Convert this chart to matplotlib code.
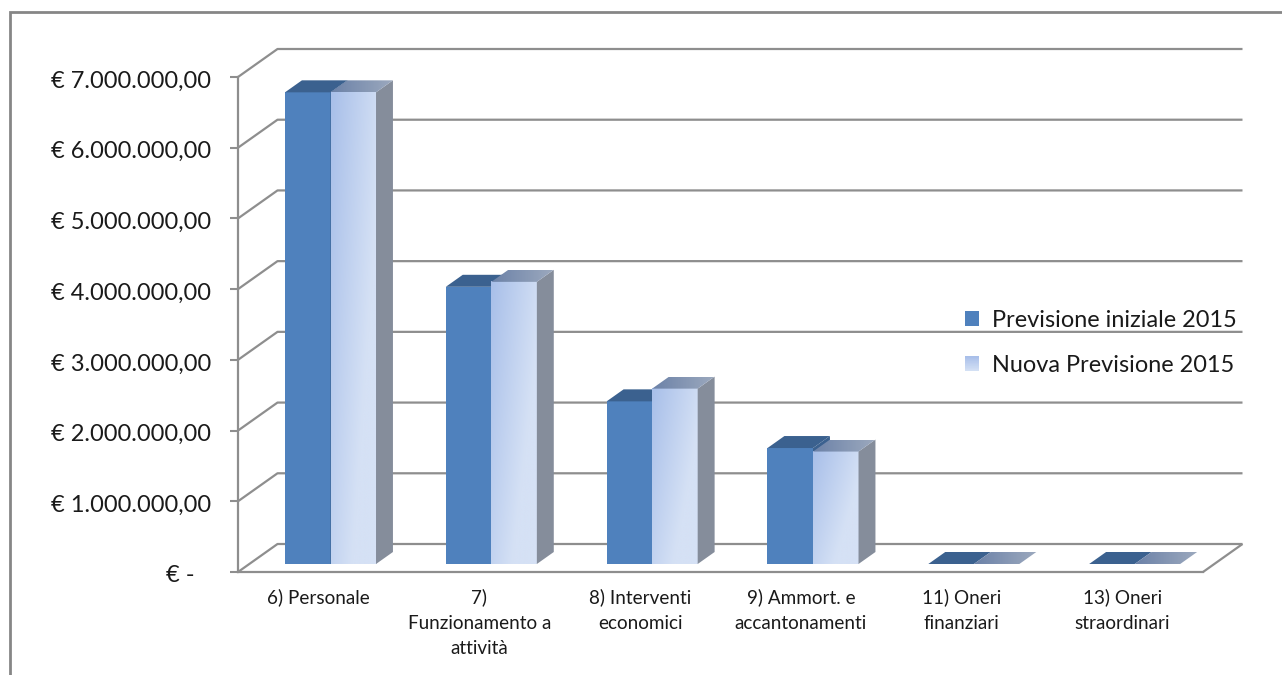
import numpy as np
import matplotlib
matplotlib.use("Agg")
import matplotlib.pyplot as plt
from matplotlib.colors import to_rgb
from matplotlib.legend_handler import HandlerBase
from matplotlib.lines import Line2D
from matplotlib.patches import Patch, Polygon, Rectangle
from matplotlib.transforms import ScaledTranslation

categories = ["6) Personale", "7)\nFunzionamento a\nattività", "8) Interventi\neconomici",
              "9) Ammort. e\naccantonamenti", "11) Oneri\nfinanziari", "13) Oneri\nstraordinari"]
previsione_iniziale = [6670000, 3920000, 2300000, 1640000, 0, 0]
nuova_previsione = [6670000, 3990000, 2480000, 1590000, 0, 0]
series_names = ["Previsione iniziale 2015", "Nuova Previsione 2015"]
y_values = [0, 1000000, 2000000, 3000000, 4000000, 5000000, 6000000, 7000000]
y_labels = ["€ -", "€ 1.000.000,00", "€ 2.000.000,00", "€ 3.000.000,00",
            "€ 4.000.000,00", "€ 5.000.000,00", "€ 6.000.000,00", "€ 7.000.000,00"]

W, H = 1282, 675
plt.rcParams["font.family"] = ["Lato", "DejaVu Sans"]
GRID = "#8e8e8e"
BLUE, BLUE_TOP = "#4f81bd", "#3b618f"
SIDE = "#858d9b"
LIGHT_A, LIGHT_B = np.array(to_rgb("#a8bfe9")), np.array(to_rgb("#d5e1f5"))
TOP_A, TOP_B = np.array(to_rgb("#6c82a8")), np.array(to_rgb("#9ca9be"))

fig = plt.figure(figsize=(W / 100, H / 100), dpi=100, facecolor="white")
ax = fig.add_axes([238 / W, 1 - 572 / H, 965 / W, 495 / H])
ax.set_facecolor("none")

# Oblique depth: one full depth unit in data units of the front plane
DX = 39.5 / (965 / 6)
DY = 28 / (495 / 7e6)


def proj(x, v, d):
    return x + d * DX, v + d * DY


def wall_line(pts, z=1):
    xs, ys = zip(*pts)
    ax.plot(xs, ys, color=GRID, lw=1.6, clip_on=False, zorder=z, solid_capstyle="butt")


n = len(categories)
for v in y_values:
    wall_line([proj(0, v, 0), proj(0, v, 1), proj(n, v, 1)])
wall_line([proj(n, 0, 0), proj(n, 0, 1)])


def gradient_front():
    py, px = np.mgrid[0:1:64j, 0:1:64j]
    u = np.clip(px * 0.85 + py * 0.6, 0, 1)[..., None]
    return LIGHT_A + (LIGHT_B - LIGHT_A) * u


def gradient_top():
    u = np.linspace(0, 1, 64)[None, :, None]
    return TOP_A + (TOP_B - TOP_A) * u


BAR_W = 0.283
D0, D1 = 8 / 28, 20 / 28
GAP = (1 - 2 * BAR_W) / 2 + 0.005


def draw_bar(x, v, face, top, z):
    x0, x1 = x, x + BAR_W
    q = lambda a, b, d: proj(a, b, d)
    # front face
    fx0, fy0 = q(x0, 0, D0)
    fx1, fy1 = q(x1, v, D0)
    if v > 0:
        if face == "gradient":
            ax.imshow(gradient_front(), extent=(fx0, fx1, fy0, fy1), origin="upper",
                      aspect="auto", zorder=z, interpolation="bilinear")
        else:
            ax.add_patch(Rectangle((fx0, fy0), fx1 - fx0, fy1 - fy0, fc=face, ec="none", zorder=z))
        # right face
        side = SIDE if face == "gradient" else BLUE_TOP
        ax.add_patch(Polygon([q(x1, 0, D0), q(x1, 0, D1), q(x1, v, D1), q(x1, v, D0)],
                             fc=side, ec="none", zorder=z))
    # top face
    poly = [q(x0, v, D0), q(x1, v, D0), q(x1, v, D1), q(x0, v, D1)]
    if top == "gradient":
        pg = Polygon(poly, fc="none", ec="none", transform=ax.transData)
        ax.add_patch(pg)
        im = ax.imshow(gradient_top(), extent=(poly[0][0], poly[2][0], poly[0][1], poly[2][1]),
                       origin="upper", aspect="auto", zorder=z, interpolation="bilinear")
        im.set_clip_path(pg)
    else:
        ax.add_patch(Polygon(poly, fc=top, ec="none", zorder=z))


for i in range(n):
    draw_bar(i + GAP, previsione_iniziale[i], BLUE, BLUE_TOP, 3 + i * 0.01)
    draw_bar(i + GAP + BAR_W, nuova_previsione[i], "gradient", "gradient", 3.005 + i * 0.01)

ax.set_xlim(0, n)
ax.set_ylim(0, 7e6)
for s in ("top", "right"):
    ax.spines[s].set_visible(False)
for s in ("left", "bottom"):
    ax.spines[s].set_color(GRID)
    ax.spines[s].set_linewidth(1.6)
ax.set_yticks(y_values, y_labels, fontsize=17, color="#1a1a1a")
ax.tick_params(axis="y", length=5.8, width=1.5, color=GRID, pad=13.5)
ax.set_xticks(np.arange(n) + 0.5, categories, fontsize=13.6, color="#1a1a1a", linespacing=1.6)
ax.tick_params(axis="x", length=0, pad=11.7)
# accounting format pads the dash label to the left; labels sit slightly low
for k, lab in enumerate(ax.get_yticklabels()):
    shift = -17 / 100 if k == 0 else 0
    lab.set_transform(lab.get_transform() + ScaledTranslation(shift, -2 / 100, fig.dpi_scale_trans))


class GradientHandle(HandlerBase):
    def create_artists(self, legend, orig, xd, yd, w, h, fs, trans):
        bands = []
        k = 24
        for j in range(k):
            u = j / (k - 1)
            c = LIGHT_A + (LIGHT_B - LIGHT_A) * u
            bands.append(Rectangle((-xd, -yd + h * (1 - (j + 1) / k)), w, h / k * 1.1,
                                   fc=c, ec="none", transform=trans))
        return bands


handles = [Patch(fc=BLUE, ec="none"), Patch(fc="#c0d0ee", ec="none")]
fs = 16.9
fig.legend(handles, series_names, loc="upper left", bbox_to_anchor=(965 / W, 1 - 310 / H),
           frameon=False, fontsize=fs, borderpad=0, borderaxespad=0,
           handlelength=10.2 / fs, handleheight=10.2 / fs, handletextpad=9 / fs,
           labelspacing=1.03, labelcolor="#1a1a1a",
           handler_map={handles[1]: GradientHandle()})

# chart frame: top and left edges
fig.add_artist(Line2D([10 / W, 10 / W, 1], [0, 1 - 12 / H, 1 - 12 / H], color="#868686", lw=2.0,
                      transform=fig.transFigure, solid_joinstyle="miter"))

fig.savefig("out.png", dpi=100, facecolor="white")
